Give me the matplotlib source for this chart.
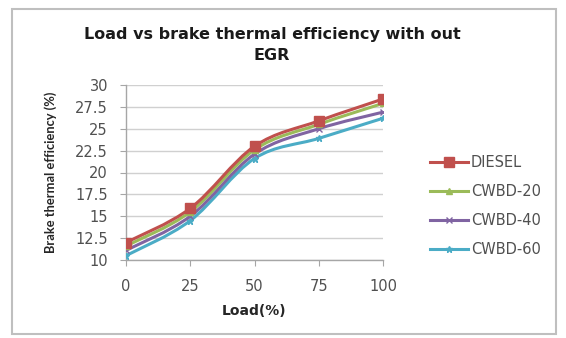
import matplotlib
matplotlib.use("Agg")
import matplotlib.pyplot as plt
from matplotlib.path import Path
from matplotlib.patches import PathPatch, Rectangle
import numpy as np

loads = [0, 25, 50, 75, 100]
diesel = [12.0, 15.9, 23.0, 25.9, 28.4]
cwbd20 = [11.6, 15.5, 22.6, 25.5, 27.9]
cwbd40 = [11.1, 15.0, 22.1, 25.0, 26.9]
cwbd60 = [10.5, 14.5, 21.6, 23.9, 26.2]
series_names = ["DIESEL", "CWBD-20", "CWBD-40", "CWBD-60"]
colors = ["#C0504D", "#9BBB59", "#8064A2", "#4BACC6"]
markers = ["s", "^", "x", "*"]
yticks = [10, 12.5, 15, 17.5, 20, 22.5, 25, 27.5, 30]
ytick_labels = ["10", "12.5", "15", "17.5", "20", "22.5", "25", "27.5", "30"]

plt.rcParams['font.family'] = ['DejaVu Sans']

W, H = 566, 338
fig = plt.figure(figsize=(W / 100, H / 100), dpi=100)
fig.patch.set_facecolor("white")

# outer chart border
fig.add_artist(Rectangle((12 / W, 4 / H), 544 / W, 325 / H, transform=fig.transFigure,
                         fill=False, edgecolor="#BFBFBF", linewidth=1.5))

ax = fig.add_axes([126 / W, 1 - 260 / H, (383 - 126) / W, (260 - 85) / H])


def smooth_path(xs, ys):
    xs = np.asarray(xs, float)
    ys = np.asarray(ys, float)
    n = len(xs)
    verts = [(xs[0], ys[0])]
    codes = [Path.MOVETO]
    for i in range(n - 1):
        i0 = max(i - 1, 0)
        i3 = min(i + 2, n - 1)
        c1 = (xs[i] + (xs[i + 1] - xs[i0]) / 6, ys[i] + (ys[i + 1] - ys[i0]) / 6)
        c2 = (xs[i + 1] - (xs[i3] - xs[i]) / 6, ys[i + 1] - (ys[i3] - ys[i]) / 6)
        verts += [c1, c2, (xs[i + 1], ys[i + 1])]
        codes += [Path.CURVE4] * 3
    return Path(verts, codes)


all_series = [diesel, cwbd20, cwbd40, cwbd60]
handles = []
for k, (name, vals, c, m) in enumerate(zip(series_names, all_series, colors, markers)):
    patch = PathPatch(smooth_path(loads, vals), facecolor="none", edgecolor=c,
                      linewidth=2.2, zorder=3 + (4 - k))
    ax.add_patch(patch)
    ms = 7.5 if m == "s" else 4.5
    ax.plot(loads, vals, linestyle="none", marker=m, color=c, markersize=ms,
            markeredgewidth=1.0, zorder=8 + (4 - k))
    h, = ax.plot([], [], color=c, linewidth=2.2, marker=m, markersize=ms,
                 markeredgewidth=1.0, label=name)
    handles.append(h)

ax.set_xlim(0, 100)
ax.set_ylim(10, 30)
ax.set_xticks(loads)
ax.set_xticklabels([str(v) for v in loads])
ax.set_yticks(yticks)
ax.set_yticklabels(ytick_labels)
ax.grid(axis="y", color="#D0D0D0", linewidth=1.0)
ax.set_axisbelow(True)
for s in ["top", "right"]:
    ax.spines[s].set_visible(False)
for s in ["left", "bottom"]:
    ax.spines[s].set_color("#A6A6A6")
    ax.spines[s].set_linewidth(1.0)
ax.tick_params(axis="both", colors="#A6A6A6", labelcolor="#505050", labelsize=10.5,
               length=4, direction="out")
ax.tick_params(axis="y", pad=9)
ax.tick_params(axis="x", pad=10)

ax.set_xlabel("Load(%)", fontsize=10, fontweight="bold", color="#262626", labelpad=7)
ax.set_ylabel("Brake thermal efficiency (%)", fontsize=9.3, fontweight="bold",
              color="#262626", labelpad=13, family=["Lato", "DejaVu Sans"])

fig.text(272 / W, 1 - 45 / H, "Load vs brake thermal efficiency with out\nEGR",
         ha="center", va="center", fontsize=11.5, fontweight="bold", color="#1A1A1A",
         linespacing=1.55)

leg = fig.legend(handles=handles, loc="center left", bbox_to_anchor=(417 / W, 1 - 206 / H),
                 frameon=False, fontsize=10.5, labelspacing=0.95, handlelength=2.6,
                 handletextpad=0.2)
for t in leg.get_texts():
    t.set_color("#505050")

fig.savefig("out.png", dpi=100)
